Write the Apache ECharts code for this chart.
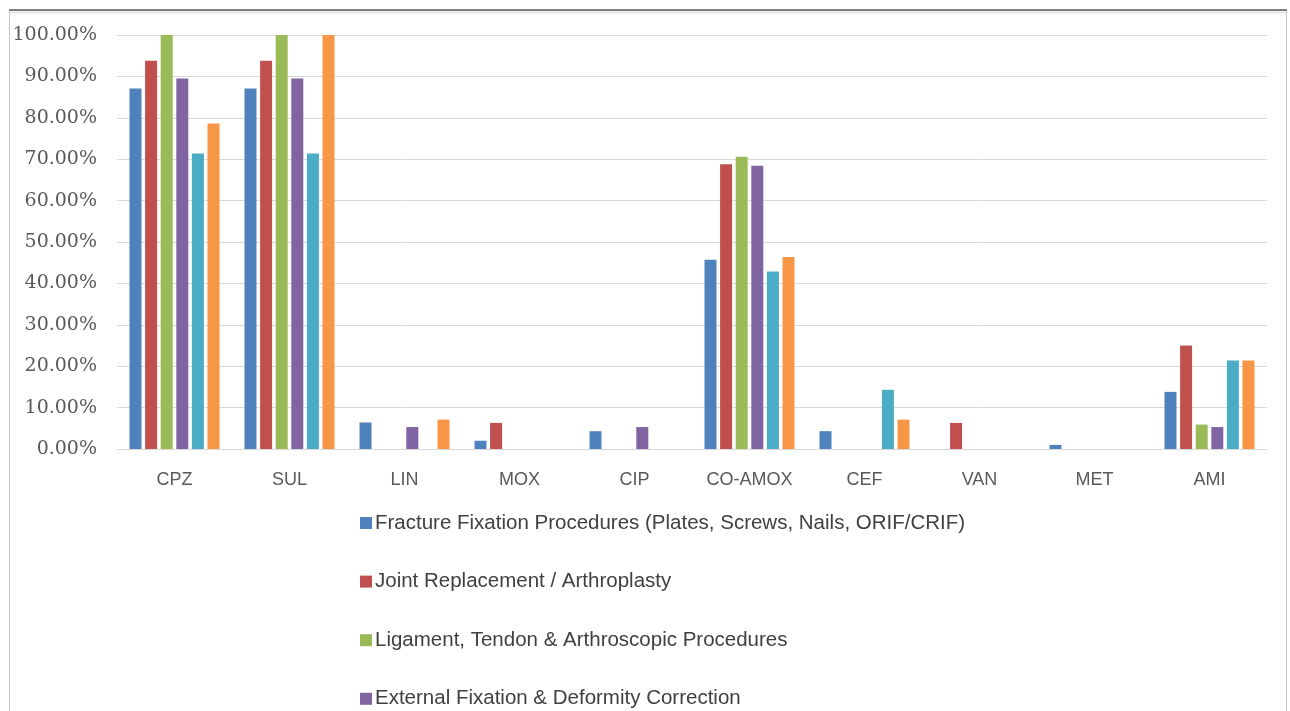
<!DOCTYPE html>
<html>
<head>
<meta charset="utf-8">
<title>Resistance by procedure group</title>
<script src="https://cdn.jsdelivr.net/npm/echarts@6/dist/echarts.min.js"></script>
<style>
  html, body { margin: 0; padding: 0; background: #ffffff; }
  #chart { width: 1290px; height: 711px; }
</style>
</head>
<body>
<div id="chart"></div>
<script>
// Antibiotics on the category axis
const antibiotics = ['CPZ', 'SUL', 'LIN', 'MOX', 'CIP', 'CO-AMOX', 'CEF', 'VAN', 'MET', 'AMI'];

// Procedure groups (series names)
const groupNames = [
  'Fracture Fixation Procedures (Plates, Screws, Nails, ORIF/CRIF)',
  'Joint Replacement / Arthroplasty',
  'Ligament, Tendon & Arthroscopic Procedures',
  'External Fixation & Deformity Correction',
  'Spine Surgery',
  'Other Orthopaedic Procedures'
];

// Percentages per antibiotic, one array per procedure group
const fractureFixation = [87.1, 87.1, 6.4, 2.0, 4.3, 45.7, 4.3, 0, 1.0, 13.8];
const jointReplacement = [93.8, 93.8, 0, 6.3, 0, 68.8, 0, 6.3, 0, 25.0];
const ligamentTendon   = [100, 100, 0, 0, 0, 70.6, 0, 0, 0, 5.9];
const externalFixation = [89.5, 89.5, 5.3, 0, 5.3, 68.4, 0, 0, 0, 5.3];
const spineSurgery     = [71.4, 71.4, 0, 0, 0, 42.9, 14.3, 0, 0, 21.4];
const otherProcedures  = [78.6, 100, 7.1, 0, 0, 46.4, 7.1, 0, 0, 21.4];

// Y-axis tick values (percent)
const yTicks = { min: 0, max: 100, step: 10 };

const seriesValues = [fractureFixation, jointReplacement, ligamentTendon, externalFixation, spineSurgery, otherProcedures];
const palette = ['#4f81bd', '#c0504d', '#9bbb59', '#8064a2', '#4bacc6', '#f79646'];

const chart = echarts.init(document.getElementById('chart'), null, { renderer: 'canvas' });

chart.setOption({
  backgroundColor: '#ffffff',
  animation: false,
  color: palette,
  graphic: [
    {
      type: 'rect',
      shape: { x: 9.5, y: 10.5, width: 1277, height: 720 },
      style: { fill: 'none', stroke: '#c8c8c8', lineWidth: 1 },
      silent: true
    },
    {
      type: 'line',
      shape: { x1: 9, y1: 10, x2: 1287, y2: 10 },
      style: { stroke: '#5a5a5a', lineWidth: 1.5 },
      silent: true
    },
    {
      type: 'line',
      shape: { x1: 10, y1: 12.5, x2: 1286, y2: 12.5 },
      style: { stroke: '#e4e4e4', lineWidth: 2 },
      silent: true
    }
  ],
  grid: { left: 117, right: 23, top: 35, height: 414, containLabel: false },
  legend: {
    orient: 'vertical',
    left: 355,
    top: 506,
    height: 1000,
    itemWidth: 12,
    itemHeight: 12,
    itemGap: 34.6,
    icon: 'rect',
    data: groupNames,
    textStyle: {
      fontFamily: '"Liberation Sans", sans-serif',
      fontSize: 20.5,
      lineHeight: 24,
      color: '#404040',
      padding: [0, 0, 0, -2]
    }
  },
  xAxis: {
    type: 'category',
    data: antibiotics,
    axisTick: { show: false },
    axisLine: { show: true, lineStyle: { color: '#d9d9d9', width: 1 } },
    axisLabel: {
      margin: 22,
      fontFamily: '"Liberation Sans", sans-serif',
      fontSize: 18,
      color: '#595959'
    }
  },
  yAxis: {
    type: 'value',
    min: yTicks.min,
    max: yTicks.max,
    interval: yTicks.step,
    axisLine: { show: false },
    axisTick: { show: false },
    splitLine: { lineStyle: { color: '#d9d9d9', width: 1 } },
    axisLabel: {
      margin: 20,
      fontFamily: '"DejaVu Serif", serif',
      fontSize: 19,
      color: '#595959',
      formatter: v => v.toFixed(2) + '%'
    }
  },
  series: seriesValues.map((vals, i) => ({
    name: groupNames[i],
    type: 'bar',
    data: vals,
    barWidth: 12,
    barGap: '30%',
    itemStyle: { color: palette[i] }
  }))
});
</script>
</body>
</html>
